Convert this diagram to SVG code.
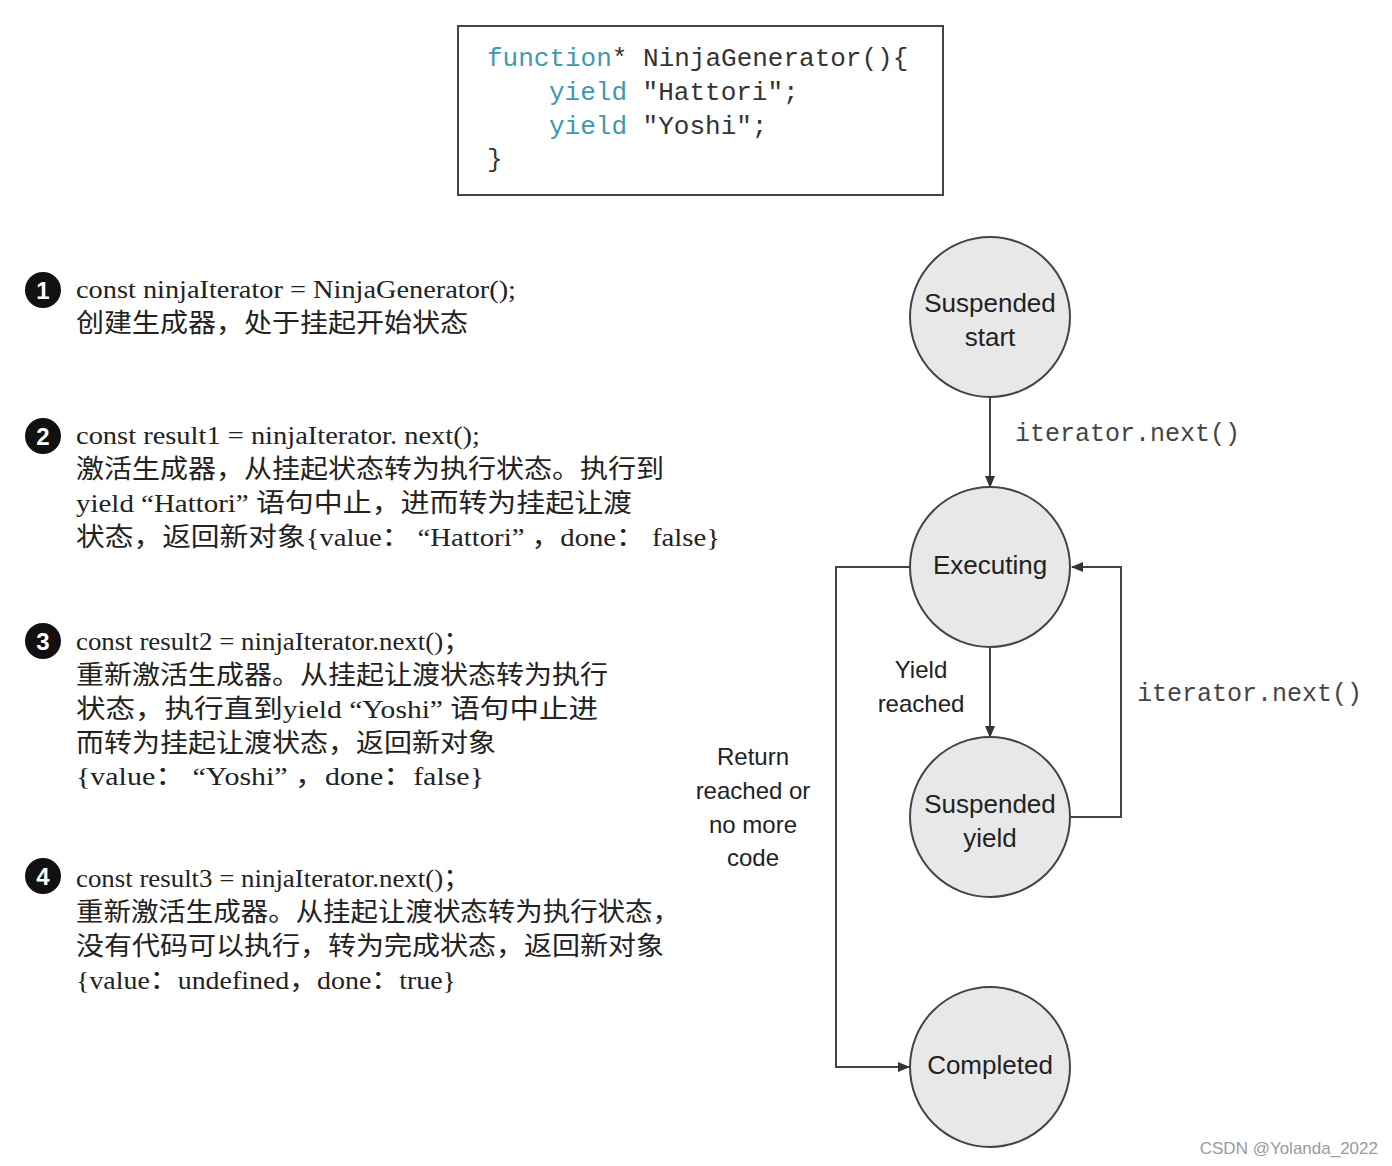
<svg xmlns="http://www.w3.org/2000/svg" width="1392" height="1166" viewBox="0 0 1392 1166">
<defs>
<marker id="ah" markerWidth="12" markerHeight="10" refX="11" refY="5" orient="auto" markerUnits="userSpaceOnUse">
<path d="M0,0 L12,5 L0,10 Z" fill="#333"/>
</marker>
<style>
.code{font-family:"Liberation Mono","DejaVu Sans Mono",monospace;font-size:26px;fill:#333}
.kw{fill:#3d9aae}
.mono{font-family:"Liberation Mono","DejaVu Sans Mono",monospace;font-size:25px;fill:#444}
.st{font-family:"Liberation Sans",Arial,sans-serif;font-size:26px;fill:#222;text-anchor:middle}
.lbl{font-family:"Liberation Sans",Arial,sans-serif;font-size:24px;fill:#222;text-anchor:middle}
.node{fill:#e8e8e8;stroke:#444;stroke-width:2}
.txt{font-family:"Liberation Serif","Noto Sans CJK SC",serif;font-size:26px;fill:#222}
.num{fill:#111}
.numt{font-family:"Liberation Sans",Arial,sans-serif;font-size:24px;font-weight:bold;fill:#fff;text-anchor:middle}
.conn{fill:none;stroke:#444;stroke-width:2}
</style>
</defs>
<rect width="1392" height="1166" fill="#fff"/>

<g id="code-box">
<rect x="458" y="26" width="485" height="169" fill="#fff" stroke="#444" stroke-width="2"/>
<text class="code" x="487" y="66"><tspan class="kw">function</tspan>* NinjaGenerator(){</text>
<text class="code" x="549" y="100"><tspan class="kw">yield</tspan> "Hattori";</text>
<text class="code" x="549" y="134"><tspan class="kw">yield</tspan> "Yoshi";</text>
<text class="code" x="487" y="167">}</text>
</g>

<g id="step1">
<circle class="num" cx="43" cy="290" r="18"/>
<text class="numt" x="43" y="299">1</text>
<text class="txt" x="76" y="298" textLength="440" lengthAdjust="spacingAndGlyphs">const ninjaIterator = NinjaGenerator();</text>
<text class="txt" x="76" y="332" textLength="392" lengthAdjust="spacingAndGlyphs">创建生成器，处于挂起开始状态</text>
</g>

<g id="step2">
<circle class="num" cx="43" cy="436" r="18"/>
<text class="numt" x="43" y="445">2</text>
<text class="txt" x="76" y="444" textLength="404" lengthAdjust="spacingAndGlyphs">const result1 = ninjaIterator. next();</text>
<text class="txt" x="76" y="478" textLength="588" lengthAdjust="spacingAndGlyphs">激活生成器，从挂起状态转为执行状态。执行到</text>
<text class="txt" x="76" y="512" textLength="556" lengthAdjust="spacingAndGlyphs">yield “Hattori” 语句中止，进而转为挂起让渡</text>
<text class="txt" x="76" y="546" textLength="644" lengthAdjust="spacingAndGlyphs">状态，返回新对象{value： “Hattori” ，done： false}</text>
</g>

<g id="step3">
<circle class="num" cx="43" cy="641" r="18"/>
<text class="numt" x="43" y="650">3</text>
<text class="txt" x="76" y="650" textLength="394" lengthAdjust="spacingAndGlyphs">const result2 = ninjaIterator.next()；</text>
<text class="txt" x="76" y="684" textLength="532" lengthAdjust="spacingAndGlyphs">重新激活生成器。从挂起让渡状态转为执行</text>
<text class="txt" x="76" y="718" textLength="522" lengthAdjust="spacingAndGlyphs">状态，执行直到yield “Yoshi” 语句中止进</text>
<text class="txt" x="76" y="752" textLength="420" lengthAdjust="spacingAndGlyphs">而转为挂起让渡状态，返回新对象</text>
<text class="txt" x="76" y="785" textLength="408" lengthAdjust="spacingAndGlyphs">{value： “Yoshi” ，done：false}</text>
</g>

<g id="step4">
<circle class="num" cx="43" cy="876" r="18"/>
<text class="numt" x="43" y="885">4</text>
<text class="txt" x="76" y="887" textLength="394" lengthAdjust="spacingAndGlyphs">const result3 = ninjaIterator.next()；</text>
<text class="txt" x="76" y="921" textLength="604" lengthAdjust="spacingAndGlyphs">重新激活生成器。从挂起让渡状态转为执行状态，</text>
<text class="txt" x="76" y="955" textLength="588" lengthAdjust="spacingAndGlyphs">没有代码可以执行，转为完成状态，返回新对象</text>
<text class="txt" x="76" y="989" textLength="380" lengthAdjust="spacingAndGlyphs">{value：undefined，done：true}</text>
</g>

<g id="connectors">
<line class="conn" x1="990" y1="397" x2="990" y2="487" marker-end="url(#ah)"/>
<line class="conn" x1="990" y1="647" x2="990" y2="737" marker-end="url(#ah)"/>
<polyline class="conn" points="1071,817 1121,817 1121,567 1072,567" marker-end="url(#ah)"/>
<polyline class="conn" points="910,567 836,567 836,1067 909,1067" marker-end="url(#ah)"/>
<text class="mono" x="1015" y="441">iterator.next()</text>
<text class="mono" x="1137" y="701">iterator.next()</text>
<text class="lbl" x="921" y="678">Yield</text>
<text class="lbl" x="921" y="712">reached</text>
<text class="lbl" x="753" y="765">Return</text>
<text class="lbl" x="753" y="799">reached or</text>
<text class="lbl" x="753" y="833">no more</text>
<text class="lbl" x="753" y="866">code</text>
</g>

<g id="node-suspended-start">
<circle class="node" cx="990" cy="317" r="80"/>
<text class="st" x="990" y="312">Suspended</text>
<text class="st" x="990" y="346">start</text>
</g>
<g id="node-executing">
<circle class="node" cx="990" cy="567" r="80"/>
<text class="st" x="990" y="574">Executing</text>
</g>
<g id="node-suspended-yield">
<circle class="node" cx="990" cy="817" r="80"/>
<text class="st" x="990" y="813">Suspended</text>
<text class="st" x="990" y="847">yield</text>
</g>
<g id="node-completed">
<circle class="node" cx="990" cy="1067" r="80"/>
<text class="st" x="990" y="1074">Completed</text>
</g>

<text x="1378" y="1154" text-anchor="end" font-family="Liberation Sans, Arial, sans-serif" font-size="17" fill="#9a9a9a">CSDN @Yolanda_2022</text>
</svg>
